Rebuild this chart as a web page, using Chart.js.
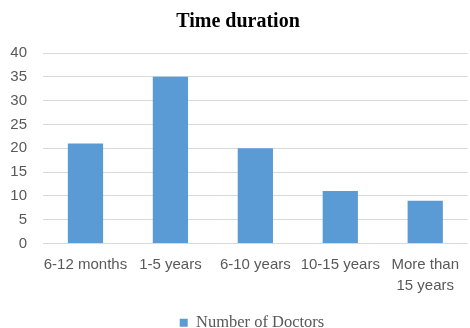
<!DOCTYPE html>
<html>
<head>
<meta charset="utf-8">
<script src="https://cdn.jsdelivr.net/npm/chart.js@4/dist/chart.umd.min.js"></script>
<style>
  html, body { margin: 0; padding: 0; background: #fff; }
  #wrap { width: 470px; height: 328px; position: relative; overflow: hidden; }
</style>
</head>
<body>
<div id="wrap"><canvas id="c" width="470" height="328"></canvas></div>
<script>
// Experience categories and counts
const categories = ["6-12 months", "1-5 years", "6-10 years", "10-15 years", ["More than", "15 years"]];
const doctorCounts = [21, 35, 20, 11, 9];
const yTicks = [0, 5, 10, 15, 20, 25, 30, 35, 40];

const sansFont = "'Liberation Sans', Arial, sans-serif";
const serifFont = "'Liberation Serif', 'Times New Roman', serif";

// nudge the legend a little to the right of the canvas centre
const legendShift = {
  id: 'legendShift',
  afterLayout(chart) {
    if (chart.legend) {
      chart.legend.left += 14;
      chart.legend.right += 14;
    }
  }
};

new Chart(document.getElementById('c'), {
  type: 'bar',
  data: {
    labels: categories,
    datasets: [{
      label: 'Number of Doctors',
      data: doctorCounts,
      backgroundColor: '#5b9bd5',
      borderWidth: 0,
      barPercentage: 0.415,
      categoryPercentage: 1.0
    }]
  },
  plugins: [legendShift],
  options: {
    responsive: false,
    animation: false,
    // the plot runs slightly past the right and bottom edges of the canvas
    layout: { padding: { left: 0, right: -6, top: 0, bottom: -13 } },
    plugins: {
      title: {
        display: true,
        text: 'Time duration',
        color: '#000',
        font: { family: serifFont, size: 20, weight: 'bold' },
        padding: { top: 10, bottom: 19 }
      },
      legend: {
        position: 'bottom',
        labels: {
          color: '#595959',
          font: { family: serifFont, size: 16.5 },
          boxWidth: 8,
          boxHeight: 8,
          padding: 2
        }
      },
      tooltip: { enabled: false }
    },
    scales: {
      x: {
        grid: { display: false, drawTicks: false },
        border: { display: false },
        ticks: {
          color: '#595959',
          font: { family: sansFont, size: 15, lineHeight: 1.4 },
          padding: 11,
          maxRotation: 0,
          autoSkip: false
        },
        afterFit: (axis) => { axis.height = 69; }
      },
      y: {
        min: 0,
        max: 40,
        afterBuildTicks: (axis) => { axis.ticks = yTicks.map(v => ({ value: v })); },
        grid: { color: '#d9d9d9', lineWidth: 1, drawTicks: false },
        border: { display: false },
        ticks: {
          color: '#595959',
          font: { family: sansFont, size: 15 },
          padding: 16
        },
        afterFit: (axis) => { axis.width = 43; }
      }
    }
  }
});
</script>
</body>
</html>
